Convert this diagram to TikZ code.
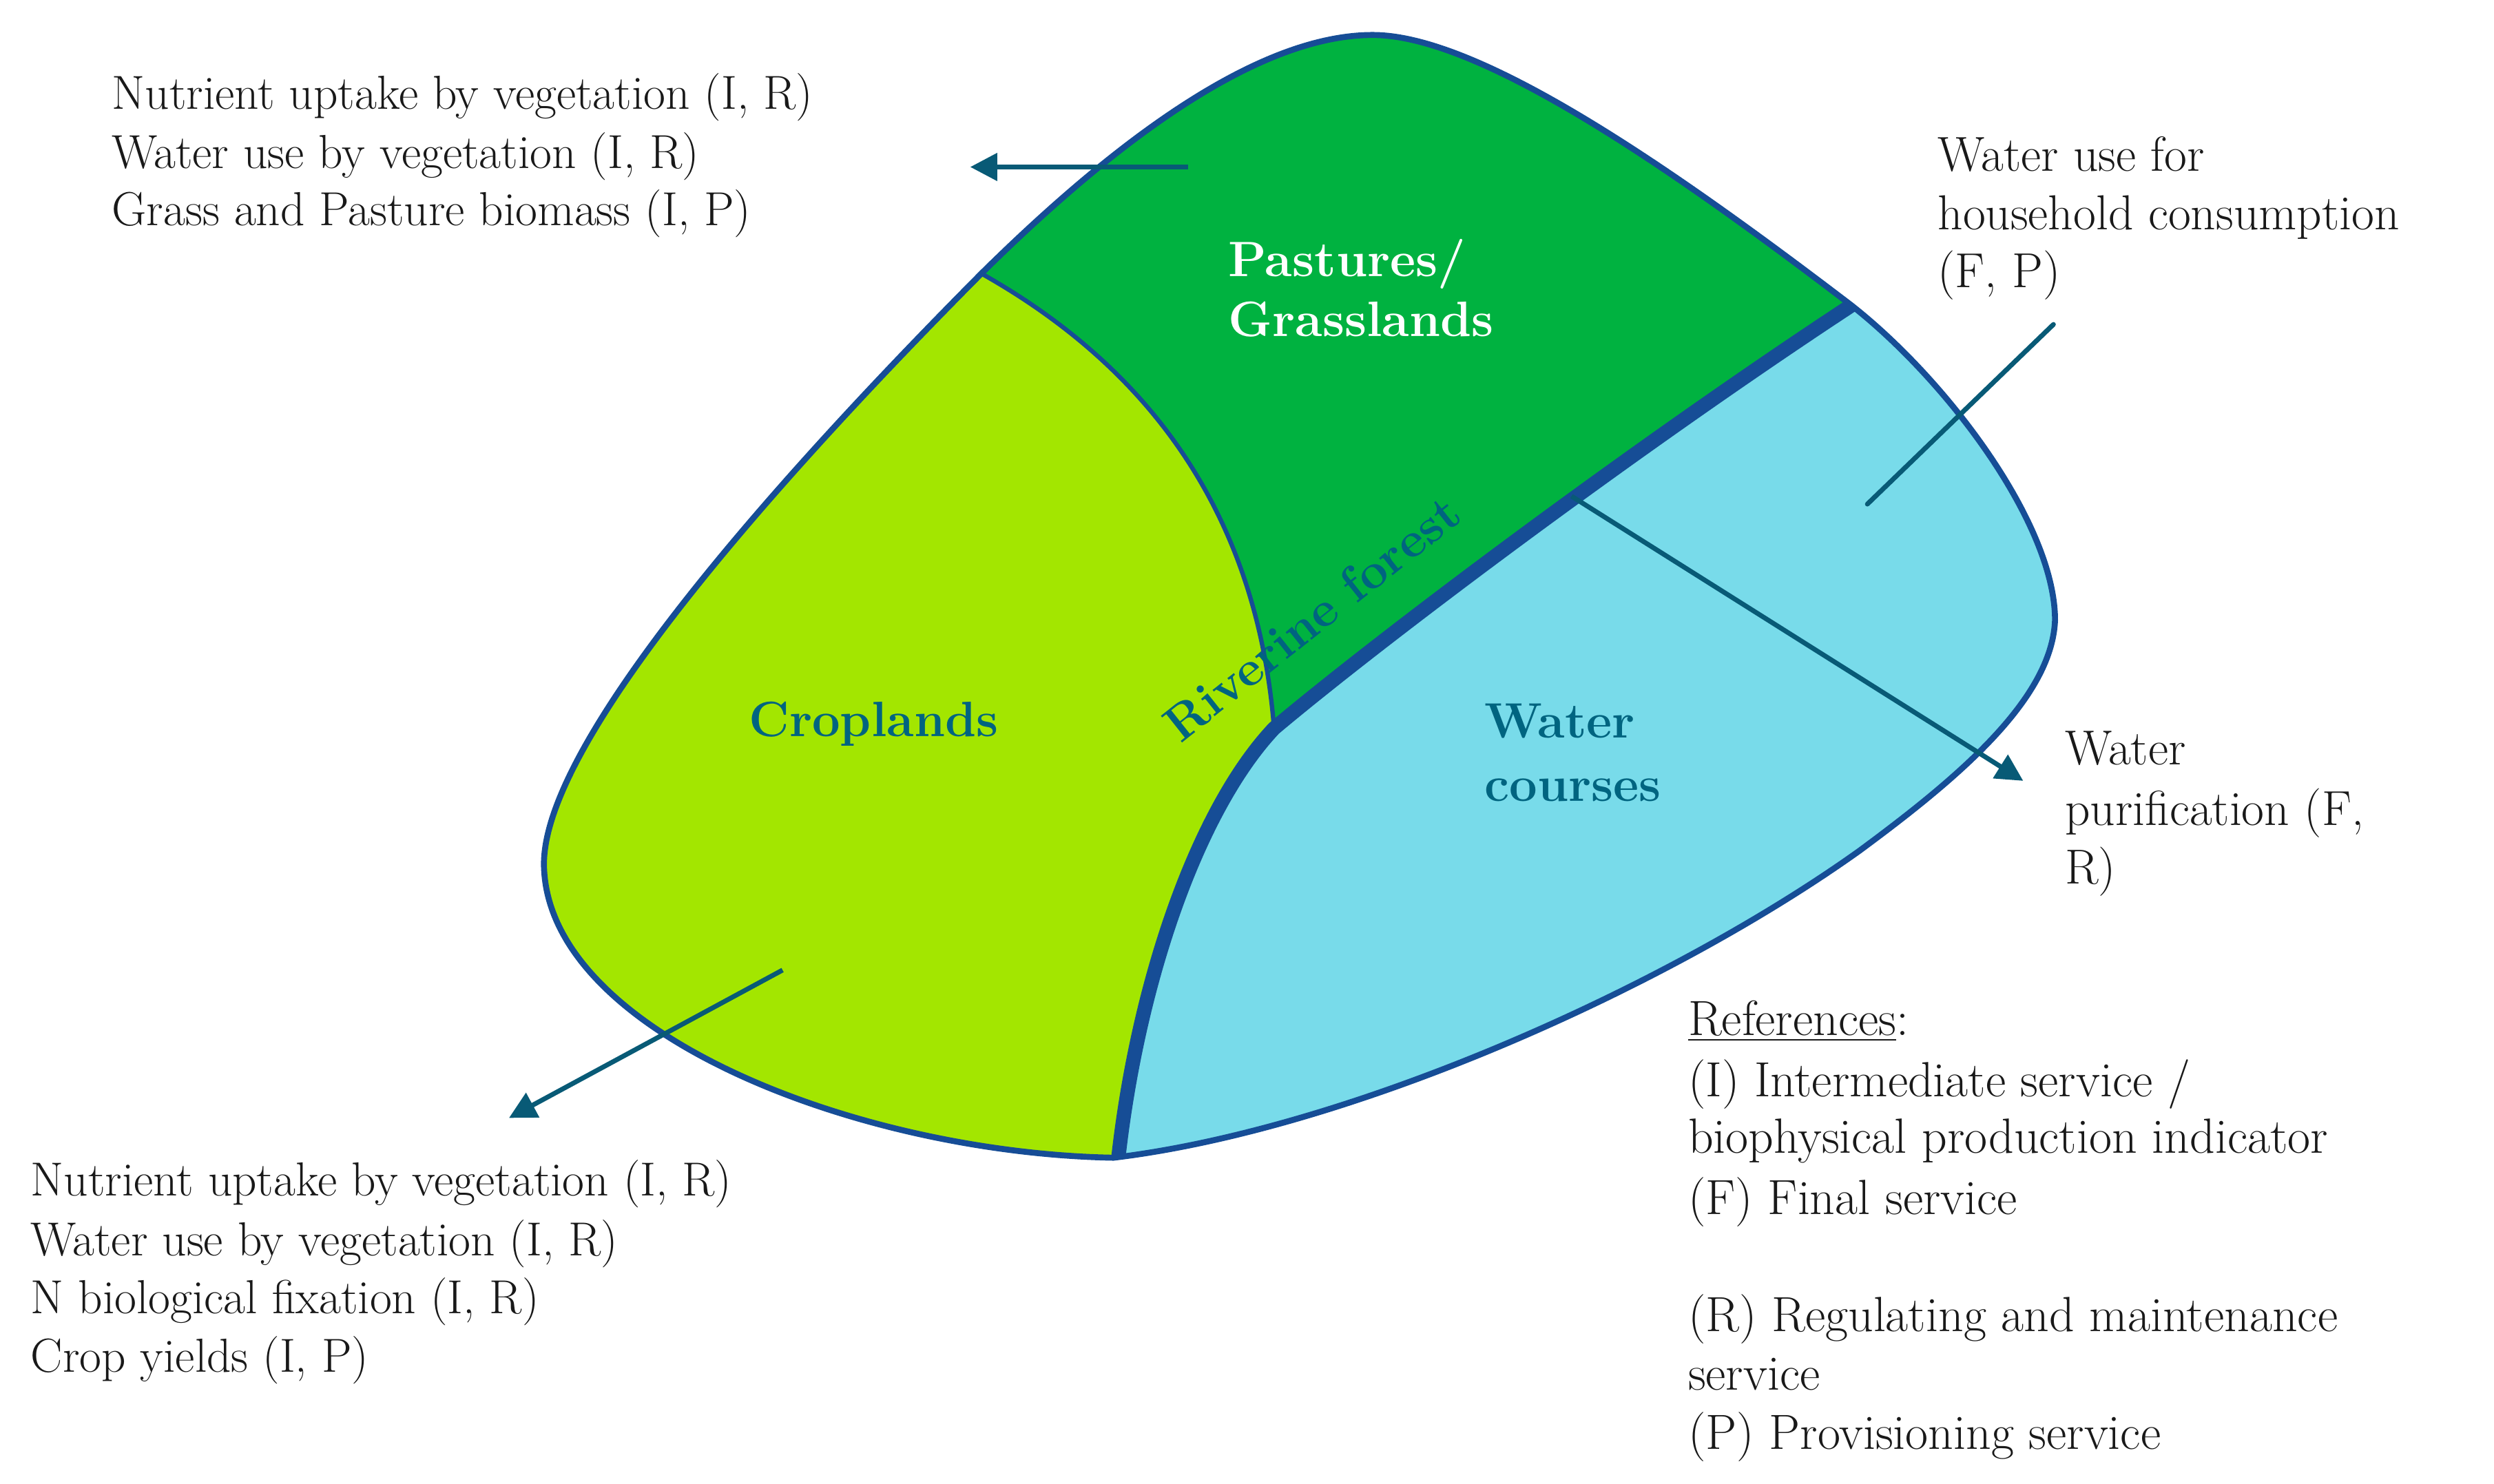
\documentclass[tikz,border=0pt]{standalone}
\usepackage{fontspec}
\usetikzlibrary{arrows.meta}
\definecolor{outl}{RGB}{22,77,150}
\definecolor{crop}{RGB}{163,230,0}
\definecolor{past}{RGB}{0,178,64}
\definecolor{wat}{RGB}{120,219,234}
\definecolor{arr}{RGB}{8,90,118}
\definecolor{lab}{RGB}{0,100,128}
\definecolor{ink}{RGB}{25,25,25}
\newcommand{\outlpath}{(700,728) .. controls (540,725) and (345,650) .. (342,545) .. controls (340,470) and (480,310) .. (617,172) .. controls (700,90) and (790,22) .. (863,22) .. controls (930,22) and (1050,105) .. (1164,192) .. controls (1225,240) and (1292,330) .. (1292,390) .. controls (1290,440) and (1230,490) .. (1169,535) .. controls (1050,620) and (850,710) .. (700,728) -- cycle}
\tikzset{
  txtL/.style={font=\fontsize{17.1pt}{20pt}\selectfont, inner sep=0pt, anchor=base west, text=ink},
  txtR/.style={font=\fontsize{17.6pt}{20pt}\selectfont, inner sep=0pt, anchor=base west, text=ink},
  txtRef/.style={font=\fontsize{17.7pt}{20pt}\selectfont, inner sep=0pt, anchor=base west, text=ink},
  region/.style={font=\fontsize{17.8pt}{20pt}\selectfont\bfseries, inner sep=0pt, anchor=base west, text=lab},
  pastlab/.style={font=\fontsize{17.8pt}{20pt}\selectfont\bfseries, inner sep=0pt, anchor=base west, text=white},
  outb/.style={draw=outl, line width=0.075cm},
  thinb/.style={draw=outl, line width=0.055cm},
  riverb/.style={draw=outl, line width=0.18cm},
  conn/.style={draw=arr, line width=0.06cm},
  arrowc/.style={conn, -{Triangle[length=0.34cm,width=0.34cm]}}
}
\begin{document}
\begin{tikzpicture}[x=0.02cm,y=-0.02cm]
\useasboundingbox (0,0) rectangle (1568,933);
% regions
\begin{scope}
  \clip \outlpath;
  \fill[past] (200,0) rectangle (1400,933);
  \fill[crop] (617,172) .. controls (720,230) and (790,320) .. (801,458) .. controls (752,510) and (715,620) .. (703,729) -- (703,960) -- (100,960) -- (100,100) -- (560,120) -- cycle;
  \fill[wat] (703,729) .. controls (715,620) and (752,510) .. (801,458) .. controls (870,400) and (1030,280) .. (1164,192) -- (1260,90) -- (1500,90) -- (1500,960) -- (703,960) -- cycle;
  \draw[thinb] (617,172) .. controls (720,230) and (790,320) .. (801,458);
  \draw[riverb] (703,729) .. controls (715,620) and (752,510) .. (801,458) .. controls (870,400) and (1030,280) .. (1164,192);
\end{scope}
\draw[outb] \outlpath;
% region labels
\node[pastlab] (past1) at (772,174) {Pastures/};
\node[pastlab] (past2) at (772,211.5) {Grasslands};
\node[region] (cropl) at (470.5,463) {Croplands};
\node[region] (wat1) at (933,464) {Water};
\node[region] (wat2) at (933,504) {courses};
\node[region, rotate=38.4] (river) at (742,468) {Riverine forest};
% top-left text
\node[txtL] (tl1) at (70,68.5) {Nutrient uptake by vegetation (I, R)};
\node[txtL] (tl2) at (70,106) {Water use by vegetation (I, R)};
\node[txtL] (tl3) at (70,142) {Grass and Pasture biomass (I, P)};
% bottom-left text
\node[txtL] (bl1) at (19,752) {Nutrient uptake by vegetation (I, R)};
\node[txtL] (bl2) at (19,789.5) {Water use by vegetation (I, R)};
\node[txtL] (bl3) at (19,826) {N biological fixation (I, R)};
\node[txtL] (bl4) at (19,862.7) {Crop yields (I, P)};
% right text
\node[txtR] (hh1) at (1218,107.4) {Water use for};
\node[txtR] (hh2) at (1218,144.6) {household consumption};
\node[txtR] (hh3) at (1218,181) {(F, P)};
\node[txtR] (wp1) at (1298,481) {Water};
\node[txtR] (wp2) at (1298,519) {purification (F,};
\node[txtR] (wp3) at (1298,556) {R)};
% references
\node[txtRef] (ref0) at (1061,651) {\underline{References}:};
\node[txtRef] (ref1) at (1061,689.6) {(I) Intermediate service /};
\node[txtRef] (ref2) at (1061,725) {biophysical production indicator};
\node[txtRef] (ref3) at (1061,763.5) {(F) Final service};
\node[txtRef] (ref4) at (1061,837.4) {(R) Regulating and maintenance};
\node[txtRef] (ref5) at (1061,874) {service};
\node[txtRef] (ref6) at (1061,911.3) {(P) Provisioning service};
% connectors
\coordinate (a1s) at (747,105);
\coordinate (a1e) at (610,105);
\coordinate (a2s) at (492,610);
\coordinate (a2e) at (320,703);
\coordinate (a3s) at (988,312);
\coordinate (a3e) at (1272,491);
\coordinate (l4s) at (1174,317);
\coordinate (l4e) at (1291,204);
\draw[arrowc] (a1s) -- (a1e);
\draw[arrowc] (a2s) -- (a2e);
\draw[arrowc] (a3s) -- (a3e);
\draw[conn, line cap=round] (l4s) -- (l4e);
\end{tikzpicture}
\end{document}
